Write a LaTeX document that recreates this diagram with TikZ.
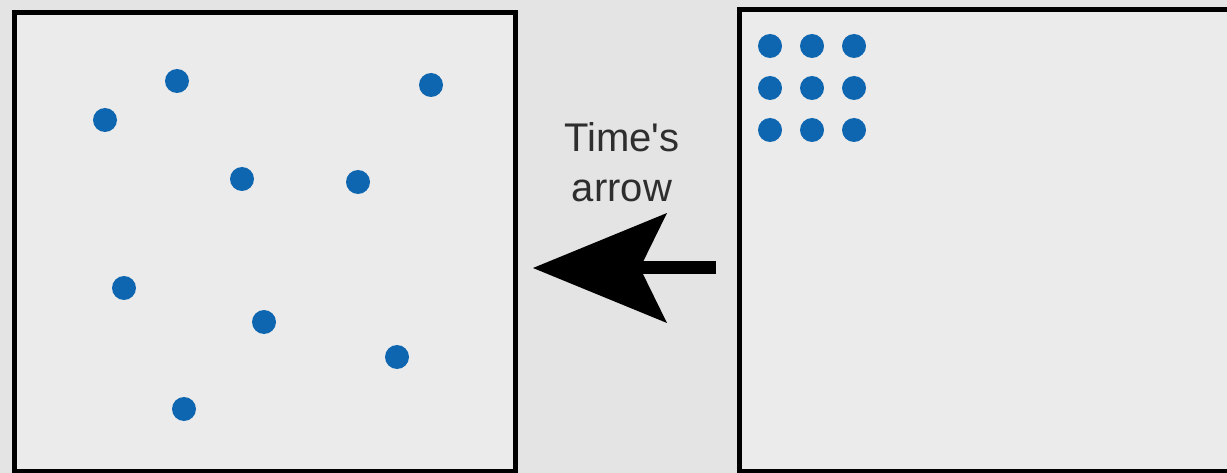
\documentclass[tikz,border=0pt]{standalone}
\usepackage{fontspec}
\setmainfont{Liberation Sans}
\usetikzlibrary{arrows.meta}
\definecolor{bgGray}{HTML}{E4E4E4}
\definecolor{dotBlue}{HTML}{0E66B0}
\definecolor{labelGray}{HTML}{2E2E2E}
\begin{document}
\begin{tikzpicture}[
  x=1pt, y=-1pt,
  panel/.style={draw=black, line width=5pt, fill=bgGray!75!white},
  particle/.style={circle, fill=dotBlue, inner sep=0pt, minimum size=24pt},
  timearrow/.style={line width=13pt, -{Stealth[length=134pt, width=110pt, inset=27pt, line width=0pt]}}
]
\fill[bgGray] (0,0) rectangle (1227,473);
\useasboundingbox (0,0) rectangle (1227,473);
\begin{scope}
\clip (0,0) rectangle (1227,473);
% the two boxes
\draw[panel] (14,13) rectangle (515,471);
\draw[panel] (739,10) rectangle (1260,471);
\end{scope}
% scattered particles (left)
\foreach \px/\py [count=\i] in {177/81, 105/120, 431/85, 242/179, 358/182, 124/288, 264/322, 397/357, 184/409}
  \node[particle] (spread\i) at (\px,\py) {};
% packed particles (right)
\foreach \row [count=\r] in {46,88,130}
  \foreach \col [count=\c] in {770,812,854}
    \node[particle] (packed\r\c) at (\col,\row) {};
% label and arrow
\node[font=\fontsize{40}{50}\selectfont, text=labelGray, align=center] (label) at (622,162) {Time\textquotesingle s\\arrow};
\coordinate (arrowStart) at (716,268);
\coordinate (arrowTip) at (533,268);
\draw[timearrow] (arrowStart) -- (arrowTip);
\end{tikzpicture}
\end{document}
